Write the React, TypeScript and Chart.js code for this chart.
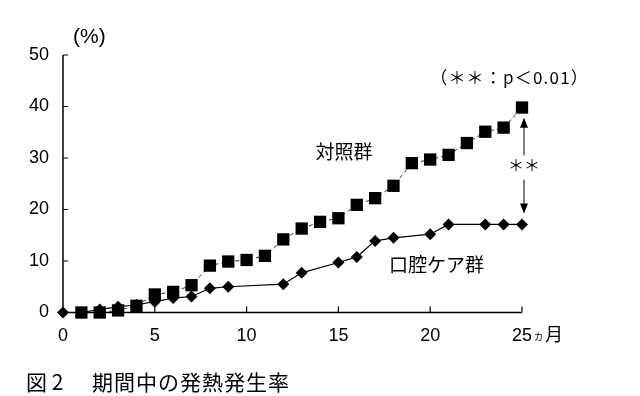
import React, { useEffect, useRef } from 'react';
import { Chart, registerables } from 'chart.js';

Chart.register(...registerables);

const controlMonths = [1, 2, 3, 4, 5, 6, 7, 8, 9, 10, 11, 12, 13, 14, 15, 16, 17, 18, 19, 20, 21, 22, 23, 24, 25];
const controlRate = [0, 0, 0.4, 1.3, 3.5, 4.0, 5.3, 9.1, 9.9, 10.2, 11.0, 14.2, 16.3, 17.6, 18.3, 20.9, 22.2, 24.6, 29.0, 29.7, 30.6, 32.9, 35.1, 35.9, 39.8];
const careMonths = [0, 1, 2, 3, 4, 5, 6, 7, 8, 9, 12, 13, 15, 16, 17, 18, 20, 21, 23, 24, 25];
const careRate = [0, 0, 0.6, 1.1, 1.5, 2.1, 2.8, 3.1, 4.7, 5.0, 5.5, 7.7, 9.7, 10.8, 13.9, 14.5, 15.2, 17.1, 17.1, 17.1, 17.1];
const xTicks = [0, 5, 10, 15, 20, 25];
const yTicks = [0, 10, 20, 30, 40, 50];
const controlLabel = '対照群';
const careLabel = '口腔ケア群';
const sigNote = '（＊＊：p＜0.01）';
const sigMark = '＊＊';
const yUnit = '(%)';
const xUnitSmall = 'ヵ';
const xUnit = '月';
const captionFig = '図 2';
const captionTitle = '期間中の発熱発生率';

const CJK = '"Noto Sans CJK JP", "Noto Sans", sans-serif';
const NUM = '"Liberation Sans", Arial, sans-serif';

const overlay = {
  id: 'overlay',
  afterDraw(chart: any) {
    const ctx = chart.ctx;
    const xs = chart.scales.x;
    const ys = chart.scales.y;
    const area = chart.chartArea;
    ctx.save();
    ctx.strokeStyle = '#000';
    ctx.lineWidth = 1.5;
    // axes
    ctx.beginPath();
    ctx.moveTo(area.left, ys.getPixelForValue(50));
    ctx.lineTo(area.left, ys.getPixelForValue(0));
    ctx.lineTo(xs.getPixelForValue(25), ys.getPixelForValue(0));
    ctx.stroke();
    // inward ticks
    ctx.lineWidth = 1.2;
    ctx.beginPath();
    yTicks.forEach((v) => {
      if (v === 0) return;
      const y = ys.getPixelForValue(v);
      ctx.moveTo(area.left, y);
      ctx.lineTo(area.left + 5, y);
    });
    xTicks.forEach((v) => {
      if (v === 0) return;
      const x = xs.getPixelForValue(v);
      ctx.moveTo(x, ys.getPixelForValue(0));
      ctx.lineTo(x, ys.getPixelForValue(0) - 6);
    });
    ctx.stroke();

    ctx.fillStyle = '#000';
    ctx.textBaseline = 'middle';
    ctx.textAlign = 'left';
    // y unit
    ctx.font = `21px ${NUM}`;
    ctx.fillText(yUnit, area.left + 10, 37);
    // x unit after 25
    const x25 = xs.getPixelForValue(25);
    ctx.font = `11px ${CJK}`;
    ctx.fillText(xUnitSmall, x25 + 11, 336);
    ctx.font = `18px ${CJK}`;
    ctx.fillText(xUnit, x25 + 23, 334);
    // series labels
    ctx.font = `19px ${CJK}`;
    ctx.fillText(controlLabel, xs.getPixelForValue(13.75), ys.getPixelForValue(31.3));
    ctx.fillText(careLabel, xs.getPixelForValue(17.75), ys.getPixelForValue(9.3));
    ctx.font = `17px ${CJK}`;
    ctx.letterSpacing = '1.2px';
    ctx.fillText(sigNote, xs.getPixelForValue(20.0), ys.getPixelForValue(45.6));
    ctx.letterSpacing = '0px';
    ctx.font = `16px ${CJK}`;
    ctx.textAlign = 'center';
    ctx.fillText(sigMark, x25 + 2, ys.getPixelForValue(28.7));
    // arrows
    const ax = x25 + 2;
    ctx.lineWidth = 1;
    ctx.beginPath();
    ctx.moveTo(ax, ys.getPixelForValue(37.4));
    ctx.lineTo(ax, ys.getPixelForValue(30.5));
    ctx.moveTo(ax, ys.getPixelForValue(25.8));
    ctx.lineTo(ax, ys.getPixelForValue(19.5));
    ctx.stroke();
    const head = (x: number, y: number, dir: number) => {
      ctx.beginPath();
      ctx.moveTo(x, y);
      ctx.lineTo(x - 4, y - dir * 10);
      ctx.lineTo(x + 4, y - dir * 10);
      ctx.closePath();
      ctx.fill();
    };
    head(ax, ys.getPixelForValue(37.8), -1);
    head(ax, ys.getPixelForValue(19.2), 1);
    // caption
    ctx.textAlign = 'left';
    ctx.font = `21px ${CJK}`;
    ctx.fillText(captionFig, 26, 382);
    ctx.letterSpacing = '1px';
    ctx.fillText(captionTitle, 92, 382);
    ctx.restore();
  },
};

export default function App() {
  const ref = useRef<HTMLCanvasElement | null>(null);
  useEffect(() => {
    if (!ref.current) return;
    const chart = new Chart(ref.current, {
      type: 'line',
      data: {
        datasets: [
          {
            label: careLabel,
            data: careMonths.map((m, i) => ({ x: m, y: careRate[i] })),
            borderColor: '#000',
            backgroundColor: '#000',
            borderWidth: 1.2,
            pointStyle: 'rectRot',
            pointRadius: 6,
            pointBorderWidth: 0,
            clip: false,
            order: 2,
          },
          {
            label: controlLabel,
            data: controlMonths.map((m, i) => ({ x: m, y: controlRate[i] })),
            borderColor: '#333',
            backgroundColor: '#000',
            borderWidth: 1,
            borderDash: [4, 3],
            pointStyle: 'rect',
            pointRadius: 8.7,
            pointBorderWidth: 0,
            clip: false,
            order: 1,
          },
        ] as any,
      },
      options: {
        animation: false,
        responsive: false,
        maintainAspectRatio: false,
        layout: { padding: { left: 0, right: 118, top: 55, bottom: 0 } },
        plugins: { legend: { display: false }, tooltip: { enabled: false } },
        scales: {
          x: {
            type: 'linear',
            min: 0,
            max: 25,
            afterBuildTicks: (s: any) => {
              s.ticks = xTicks.map((v) => ({ value: v }));
            },
            afterFit: (s: any) => {
              s.height = 83.5;
            },
            grid: { display: false, drawTicks: false },
            border: { display: false },
            ticks: { color: '#000', padding: 13, maxRotation: 0, font: { family: NUM, size: 18 } },
          },
          y: {
            type: 'linear',
            min: 0,
            max: 50,
            afterBuildTicks: (s: any) => {
              s.ticks = yTicks.map((v) => ({ value: v }));
            },
            afterFit: (s: any) => {
              s.width = 63;
            },
            grid: { display: false, drawTicks: false },
            border: { display: false },
            ticks: { color: '#000', padding: 14, font: { family: NUM, size: 18 } },
          },
        },
      },
      plugins: [overlay],
    });
    return () => chart.destroy();
  }, []);
  return (
    <div style={{ position: 'fixed', left: 0, top: 0, width: 640, height: 396, background: '#fff' }}>
      <canvas ref={ref} width={640} height={396} style={{ width: 640, height: 396 }} />
    </div>
  );
}
